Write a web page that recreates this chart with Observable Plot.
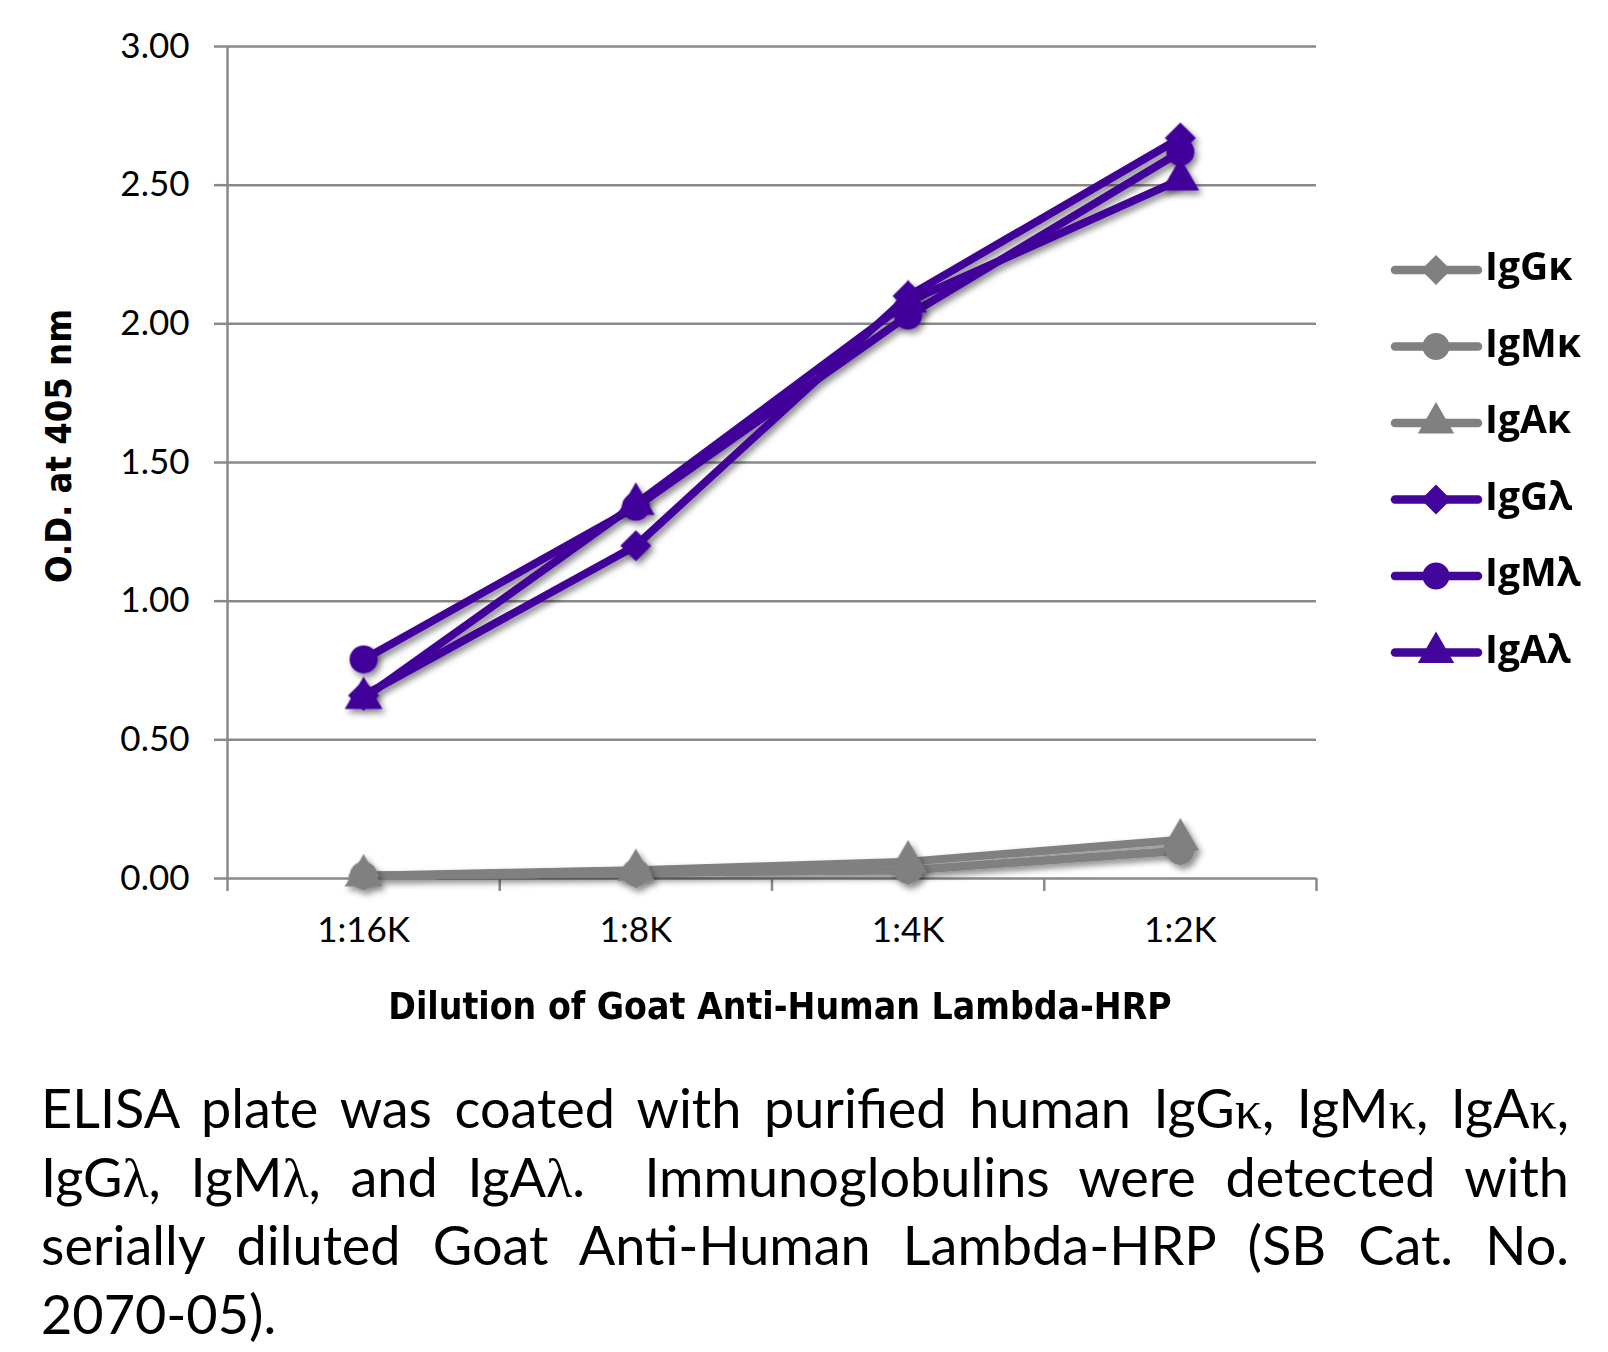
<!DOCTYPE html>
<html><head><meta charset="utf-8">
<script src="https://cdn.jsdelivr.net/npm/d3@7"></script>
<script src="https://cdn.jsdelivr.net/npm/@observablehq/plot@0.6"></script>
<style>
body{margin:0;background:#fff;}
#chart{position:absolute;left:0;top:0;}
#caption{position:absolute;left:41px;top:1074px;width:1528px;font-family:Lato,"Open Sans",sans-serif;font-size:54px;line-height:68.7px;color:#000;}
#caption div{white-space:nowrap;height:68.7px;overflow:visible;}
.j{text-align:justify;text-align-last:justify;}
.g{font-family:"Liberation Serif","DejaVu Serif",serif;line-height:0;}
</style></head><body>
<div id="chart"></div>
<div id="caption">
<div class="j">ELISA plate was coated with purified human IgG<span class="g">κ</span>, IgM<span class="g">κ</span>, IgA<span class="g">κ</span>,</div>
<div class="j">IgG<span class="g">λ</span>, IgM<span class="g">λ</span>, and IgA<span class="g">λ</span>.&nbsp; Immunoglobulins were detected with</div>
<div class="j">serially diluted Goat Anti-Human Lambda-HRP (SB Cat. No.</div>
<div>2070-05).</div>
</div>
<script>
// ---- data ----
const dilutions = ["1:16K", "1:8K", "1:4K", "1:2K"];
const seriesNames = ["IgGκ", "IgMκ", "IgAκ", "IgGλ", "IgMλ", "IgAλ"];
const seriesColors = ["#808080", "#808080", "#808080", "#42069a", "#42069a", "#42069a"];
const seriesSymbols = ["diamond2", "circle", "triangle", "diamond2", "circle", "triangle"];
const igGkappa = [0.01, 0.02, 0.03, 0.10];
const igMkappa = [0.01, 0.02, 0.03, 0.10];
const igAkappa = [0.01, 0.03, 0.06, 0.14];
const igGlambda = [0.66, 1.20, 2.10, 2.67];
const igMlambda = [0.79, 1.34, 2.03, 2.62];
const igAlambda = [0.65, 1.35, 2.08, 2.52];
const yTicks = [0, 0.5, 1, 1.5, 2, 2.5, 3];
const xCenterTicks = [1, 2, 3, 4];
const xBoundaryTicks = [0.5, 1.5, 2.5, 3.5, 4.5];
const yTitle = "O.D. at 405 nm";
const xTitle = "Dilution of Goat Anti-Human Lambda-HRP";

const seriesValues = [igGkappa, igMkappa, igAkappa, igGlambda, igMlambda, igAlambda];
const rows = [];
seriesNames.forEach((s, k) => seriesValues[k].forEach((v, i) => rows.push({series: s, x: i + 1, y: v})));

const gridColor = "#898989";
const W = 1608, H = 1040;
const plot = Plot.plot({
  width: W, height: H,
  marginLeft: 227, marginRight: 292, marginTop: 46, marginBottom: 162,
  style: {fontFamily: "Lato, 'Open Sans', sans-serif", fontSize: "35px", color: "#000", background: "#fff", overflow: "visible"},
  x: {type: "linear", domain: [0.5, 4.5]},
  y: {domain: [0, 3]},
  color: {type: "ordinal", domain: seriesNames, range: seriesColors},
  symbol: {domain: seriesNames, range: seriesSymbols},
  marks: [
    Plot.gridY(yTicks, {stroke: gridColor, strokeOpacity: 1, strokeWidth: 2.5}),
    Plot.axisY(yTicks, {tickSize: 13, tickPadding: 25, tickFormat: d => d.toFixed(2), stroke: gridColor, strokeWidth: 2.5, strokeOpacity: 1, label: null}),
    Plot.axisX(xBoundaryTicks, {tickSize: 13, tickFormat: () => "", stroke: gridColor, strokeWidth: 2.5, strokeOpacity: 1, label: null}),
    Plot.axisX(xCenterTicks, {tickSize: 0, tickPadding: 39, tickFormat: d => dilutions[d - 1], label: null}),
    Plot.ruleX([0.5], {stroke: gridColor, strokeWidth: 2.5}),
    Plot.line(rows, {x: "x", y: "y", z: "series", stroke: "series", strokeWidth: 8, strokeLinejoin: "round", strokeLinecap: "round"}),
    Plot.dot(rows, {x: "x", y: "y", fill: "series", symbol: "series", r: 14, stroke: null})
  ]
});
document.getElementById("chart").appendChild(plot);

const svg = d3.select(plot);
const defs = svg.insert("defs", ":first-child");
const f = defs.append("filter").attr("id", "shadow").attr("x", "-20%").attr("y", "-20%").attr("width", "140%").attr("height", "140%");
f.append("feDropShadow").attr("dx", 3).attr("dy", 4).attr("stdDeviation", 3).attr("flood-color", "#000").attr("flood-opacity", 0.45);
plot.querySelectorAll('g[aria-label="line"], g[aria-label="dot"]').forEach(g => g.setAttribute("filter", "url(#shadow)"));

// axis titles
svg.append("text").attr("transform", "translate(61,446) rotate(-90)")
  .attr("text-anchor", "middle").attr("dominant-baseline", "middle")
  .style("font-family", "'Liberation Sans Narrow', 'DejaVu Sans Condensed', sans-serif")
  .style("font-weight", "bold").style("font-size", "36px").text(yTitle);
svg.append("text").attr("x", 780).attr("y", 1008)
  .attr("text-anchor", "middle").attr("dominant-baseline", "middle")
  .style("font-family", "'Liberation Sans Narrow', 'DejaVu Sans Condensed', sans-serif")
  .style("font-weight", "bold").style("font-size", "37px").text(xTitle);

// legend
const symMap = {circle: d3.symbolCircle, triangle: d3.symbolTriangle, diamond2: d3.symbolDiamond2};
const lg = svg.append("g").attr("text-anchor", "start");
seriesNames.forEach((s, i) => {
  const y = 270 + i * 76.5;
  lg.append("line").attr("x1", 1395).attr("x2", 1478).attr("y1", y).attr("y2", y)
    .attr("stroke", seriesColors[i]).attr("stroke-width", 8.5).attr("stroke-linecap", "round");
  lg.append("path").attr("transform", `translate(1436,${y})`)
    .attr("d", d3.symbol(symMap[seriesSymbols[i]], Math.PI * 13.5 * 13.5)())
    .attr("fill", seriesColors[i]);
  lg.append("text").attr("x", 1485).attr("y", y).attr("dominant-baseline", "middle")
    .style("font-family", "'Open Sans', Lato, sans-serif").style("font-weight", "bold").style("font-size", "39px")
    .text(s);
});
</script>
</body></html>
